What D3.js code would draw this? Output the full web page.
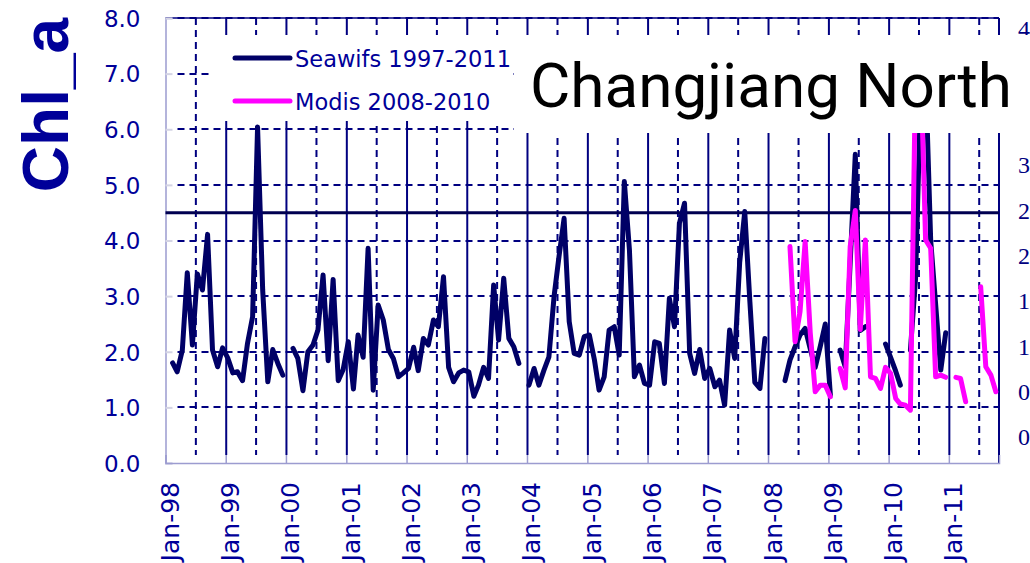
<!DOCTYPE html>
<html>
<head>
<meta charset="utf-8">
<script src="https://cdn.jsdelivr.net/npm/d3@7"></script>
<style>
    body { margin: 0; background: #fff; }
    svg { display: block; }
</style>
</head>
<body>
<svg id="chart" width="1030" height="563"></svg>
<script>
    // values, one per month starting Jan-98 (null = no data)
    var seawifs = [
        null, 1.80, 1.64, 2.03, 3.42, 2.12, 3.40, 3.11, 4.11, 2.03, 1.73, 2.07,
        1.89, 1.62, 1.64, 1.48, 2.15, 2.63, 6.04, 3.11, 1.46, 2.04, 1.79, 1.58,
        null, 2.06, 1.88, 1.30, 2.00, 2.12, 2.39, 3.38, 1.84, 3.30, 1.48, 1.68,
        2.18, 1.33, 2.30, 1.90, 3.86, 1.31, 2.84, 2.57, 2.04, 1.88, 1.55, 1.62,
        1.70, 2.08, 1.66, 2.24, 2.12, 2.57, 2.45, 3.35, 1.72, 1.46, 1.62, 1.67,
        1.64, 1.20, 1.40, 1.72, 1.52, 3.20, 2.21, 3.32, 2.24, 2.09, 1.79, null,
        1.40, 1.70, 1.40, 1.67, 1.91, 2.99, 3.71, 4.40, 2.54, 1.97, 1.94, 2.27,
        2.30, 1.85, 1.31, 1.55, 2.39, 2.45, 1.94, 5.06, 3.83, 1.55, 1.76, 1.43,
        1.40, 2.18, 2.15, 1.43, 2.96, 2.45, 4.31, 4.67, 1.97, 1.61, 2.04, 1.52,
        1.70, 1.37, 1.49, 1.04, 2.39, 1.88, 3.60, 4.52, 2.90, 1.45, 1.34, 2.24,
        null, null, null, 1.48, 1.85, 2.09, 2.30, 2.42, 2.05, 1.72, 2.10, 2.50,
        1.22, null, 2.03, 1.73, 3.60, 5.55, 2.38, 2.45, null, null, null, 2.14,
        1.90, 1.65, 1.40, null, 2.03, 3.30, 6.50, 7.00, 4.00, 2.85, 1.67, 2.34
    ];
    var seawifsFirstMonth = 0;

    // modis starts May-08
    var modis = [
        3.89, 2.18, 2.72, 3.98, 2.34, 1.28, 1.40, 1.40,
        1.19, null, 1.70, 1.35, 3.89, 4.54, 2.40, 4.01, 1.55, 1.52, 1.34, 1.72,
        1.61, 1.16, 1.06, 1.04, 0.95, 7.00, 7.30, 4.01, 3.86, 1.55, 1.58, 1.54,
        null, 1.54, 1.52, 1.10, null, null, 3.17, 1.73, 1.58, 1.28
    ];
    var modisFirstMonth = 124;

    var threshold = 4.5;
    var leftTicks = [0, 1, 2, 3, 4, 5, 6, 7, 8];
    var rightTicks = [0, 0.5, 1, 1.5, 2, 2.5, 3, 3.5, 4, 4.5];
    var yearTicks = d3.range(1998, 2012);
    var legendLabels = ['Seawifs 1997-2011', 'Modis 2008-2010'];
    var title = 'Changjiang North';
    var yTitle = 'Chl_a';

    var navy = '#000080',
        blue = '#000099',
        lavender = '#9c9cd0',
        plotLeft = 165.5, plotRight = 999, plotTop = 18, plotBottom = 463;

    var svg = d3.select('#chart');

    var x = d3.scaleUtc()
        .domain([new Date(Date.UTC(1998, 0, 1)), new Date(Date.UTC(2011, 10, 1))])
        .range([plotLeft, plotRight]);
    var y = d3.scaleLinear().domain([0, 8]).range([plotBottom, plotTop]);
    var yRight = d3.scaleLinear().domain([0, 4.5]).range([437, 29]);

    function monthDate(m) {
        return new Date(Date.UTC(1998, m, 13));
    }

    function toPoints(values, first) {
        return values.map(function(v, i) {
            return {date: monthDate(first + i), value: v};
        });
    }

    function janDate(d) { return new Date(Date.UTC(d, 0, 1)); }
    function julDate(d) { return new Date(Date.UTC(d, 6, 1)); }

    svg.append('defs').append('clipPath').attr('id', 'plot')
        .append('rect')
            .attr('x', plotLeft).attr('y', plotTop)
            .attr('width', plotRight - plotLeft).attr('height', plotBottom - plotTop);

    // vertical grid: solid at January, dashed at July
    var janGrid = svg.append('g')
        .attr('transform', 'translate(0,' + (plotBottom - 8) + ')')
        .call(d3.axisTop(x)
            .tickValues(yearTicks.slice(1).map(janDate))
            .tickSize(plotBottom - 8 - plotTop)
            .tickFormat(''));
    janGrid.select('.domain').remove();
    janGrid.selectAll('.tick line').attr('stroke', navy).attr('stroke-width', 2);

    var julGrid = svg.append('g')
        .attr('transform', 'translate(0,' + plotTop + ')')
        .call(d3.axisBottom(x)
            .tickValues(yearTicks.map(julDate))
            .tickSize(plotBottom - 8 - plotTop)
            .tickFormat(''));
    julGrid.select('.domain').remove();
    julGrid.selectAll('.tick line')
        .attr('stroke', navy).attr('stroke-width', 2)
        .attr('stroke-dasharray', '7,5');

    // horizontal dashed grid, one line per tick value
    svg.append('g').selectAll('line')
        .data(leftTicks.slice(1))
        .enter()
        .append('line')
            .attr('x1', plotLeft + 12)
            .attr('x2', plotRight)
            .attr('y1', function(d) { return Math.round(y(d)); })
            .attr('y2', function(d) { return Math.round(y(d)); })
            .attr('stroke', navy)
            .attr('stroke-width', 2.2)
            .attr('stroke-dasharray', '7,5');

    // frame: top and right navy
    svg.append('line')
        .attr('x1', plotLeft).attr('x2', plotRight).attr('y1', plotTop).attr('y2', plotTop)
        .attr('stroke', navy).attr('stroke-width', 1.5);
    svg.append('line')
        .attr('x1', plotRight).attr('x2', plotRight).attr('y1', plotTop).attr('y2', plotBottom)
        .attr('stroke', navy).attr('stroke-width', 2);

    // left axis
    var yAxis = svg.append('g')
        .attr('transform', 'translate(' + plotLeft + ',0)')
        .call(d3.axisLeft(y)
            .tickValues(leftTicks)
            .tickFormat(d3.format('.1f'))
            .tickSize(-7)
            .tickPadding(25));
    yAxis.select('.domain').attr('stroke', lavender).attr('stroke-width', 1.5);
    yAxis.selectAll('.tick line').attr('stroke', '#d4d4e4').attr('stroke-width', 2);
    yAxis.selectAll('.tick text')
        .attr('fill', blue)
        .attr('font-family', '"DejaVu Sans", Verdana, sans-serif')
        .attr('font-size', 23)
        .attr('dy', '0.36em');

    // bottom axis
    var xAxis = svg.append('g')
        .attr('transform', 'translate(0,' + plotBottom + ')')
        .call(d3.axisBottom(x)
            .tickValues(yearTicks.map(janDate))
            .tickFormat(d3.utcFormat('%b-%y'))
            .tickSize(-8));
    xAxis.select('.domain').attr('stroke', lavender).attr('stroke-width', 1.5);
    xAxis.selectAll('.tick line').attr('stroke', lavender).attr('stroke-width', 1.5);
    xAxis.selectAll('.tick text')
        .attr('fill', blue)
        .attr('font-family', '"DejaVu Sans", Verdana, sans-serif')
        .attr('font-size', 25)
        .attr('text-anchor', 'end')
        .attr('dy', null)
        .attr('y', 0)
        .attr('transform', 'translate(13,19) rotate(-90)');

    // threshold
    svg.append('line')
        .attr('x1', plotLeft).attr('x2', plotRight)
        .attr('y1', y(threshold)).attr('y2', y(threshold))
        .attr('stroke', '#000050').attr('stroke-width', 3);

    // series
    var line = d3.line()
        .defined(function(d) { return d.value !== null; })
        .x(function(d) { return x(d.date); })
        .y(function(d) { return y(d.value); });

    var series = svg.append('g').attr('clip-path', 'url(#plot)');
    series.append('path')
        .datum(toPoints(seawifs, seawifsFirstMonth))
        .attr('d', line)
        .attr('fill', 'none').attr('stroke', '#000066')
        .attr('stroke-width', 5).attr('stroke-linejoin', 'round').attr('stroke-linecap', 'round');
    series.append('path')
        .datum(toPoints(modis, modisFirstMonth))
        .attr('d', line)
        .attr('fill', 'none').attr('stroke', '#ff00ff')
        .attr('stroke-width', 5).attr('stroke-linejoin', 'round').attr('stroke-linecap', 'round');

    // right axis labels (cut by the page edge)
    svg.selectAll('text.rlabel').data(rightTicks).enter()
        .append('text')
            .attr('class', 'rlabel')
            .attr('x', 1018)
            .attr('y', yRight)
            .attr('dy', '0.35em')
            .attr('fill', navy)
            .attr('font-family', '"Liberation Serif", "Times New Roman", serif')
            .attr('font-size', 24)
            .text(d3.format('.1f'));

    // legend box
    svg.append('rect')
        .attr('x', 210).attr('y', 35).attr('width', 302).attr('height', 86)
        .attr('fill', '#fff');
    var legendColors = ['#000066', '#ff00ff'],
        legendY = [58, 101];
    var legend = svg.selectAll('g.legend').data(legendLabels).enter()
        .append('g')
            .attr('class', 'legend')
            .attr('transform', function(d, i) { return 'translate(0,' + legendY[i] + ')'; });
    legend.append('line')
        .attr('x1', 235).attr('x2', 290)
        .attr('stroke', function(d, i) { return legendColors[i]; })
        .attr('stroke-width', 5).attr('stroke-linecap', 'round');
    legend.append('text')
        .attr('x', 295).attr('y', 9)
        .attr('fill', blue)
        .attr('font-family', '"DejaVu Sans", Verdana, sans-serif')
        .attr('font-size', 22.5)
        .text(function(d) { return d; });

    // title box
    svg.append('rect')
        .attr('x', 514).attr('y', 35).attr('width', 516).attr('height', 98)
        .attr('fill', '#fff');
    svg.append('text')
        .attr('x', 530).attr('y', 107)
        .attr('fill', '#000')
        .attr('font-family', 'Roboto, "Noto Sans", sans-serif')
        .attr('font-size', 62)
        .text(title);

    svg.append('text')
        .attr('transform', 'translate(68,105) rotate(-90)')
        .attr('text-anchor', 'middle')
        .attr('fill', blue)
        .attr('font-family', '"Liberation Sans", Arial, sans-serif')
        .attr('font-weight', 'bold')
        .attr('font-size', 64)
        .text(yTitle);
</script>
</body>
</html>
